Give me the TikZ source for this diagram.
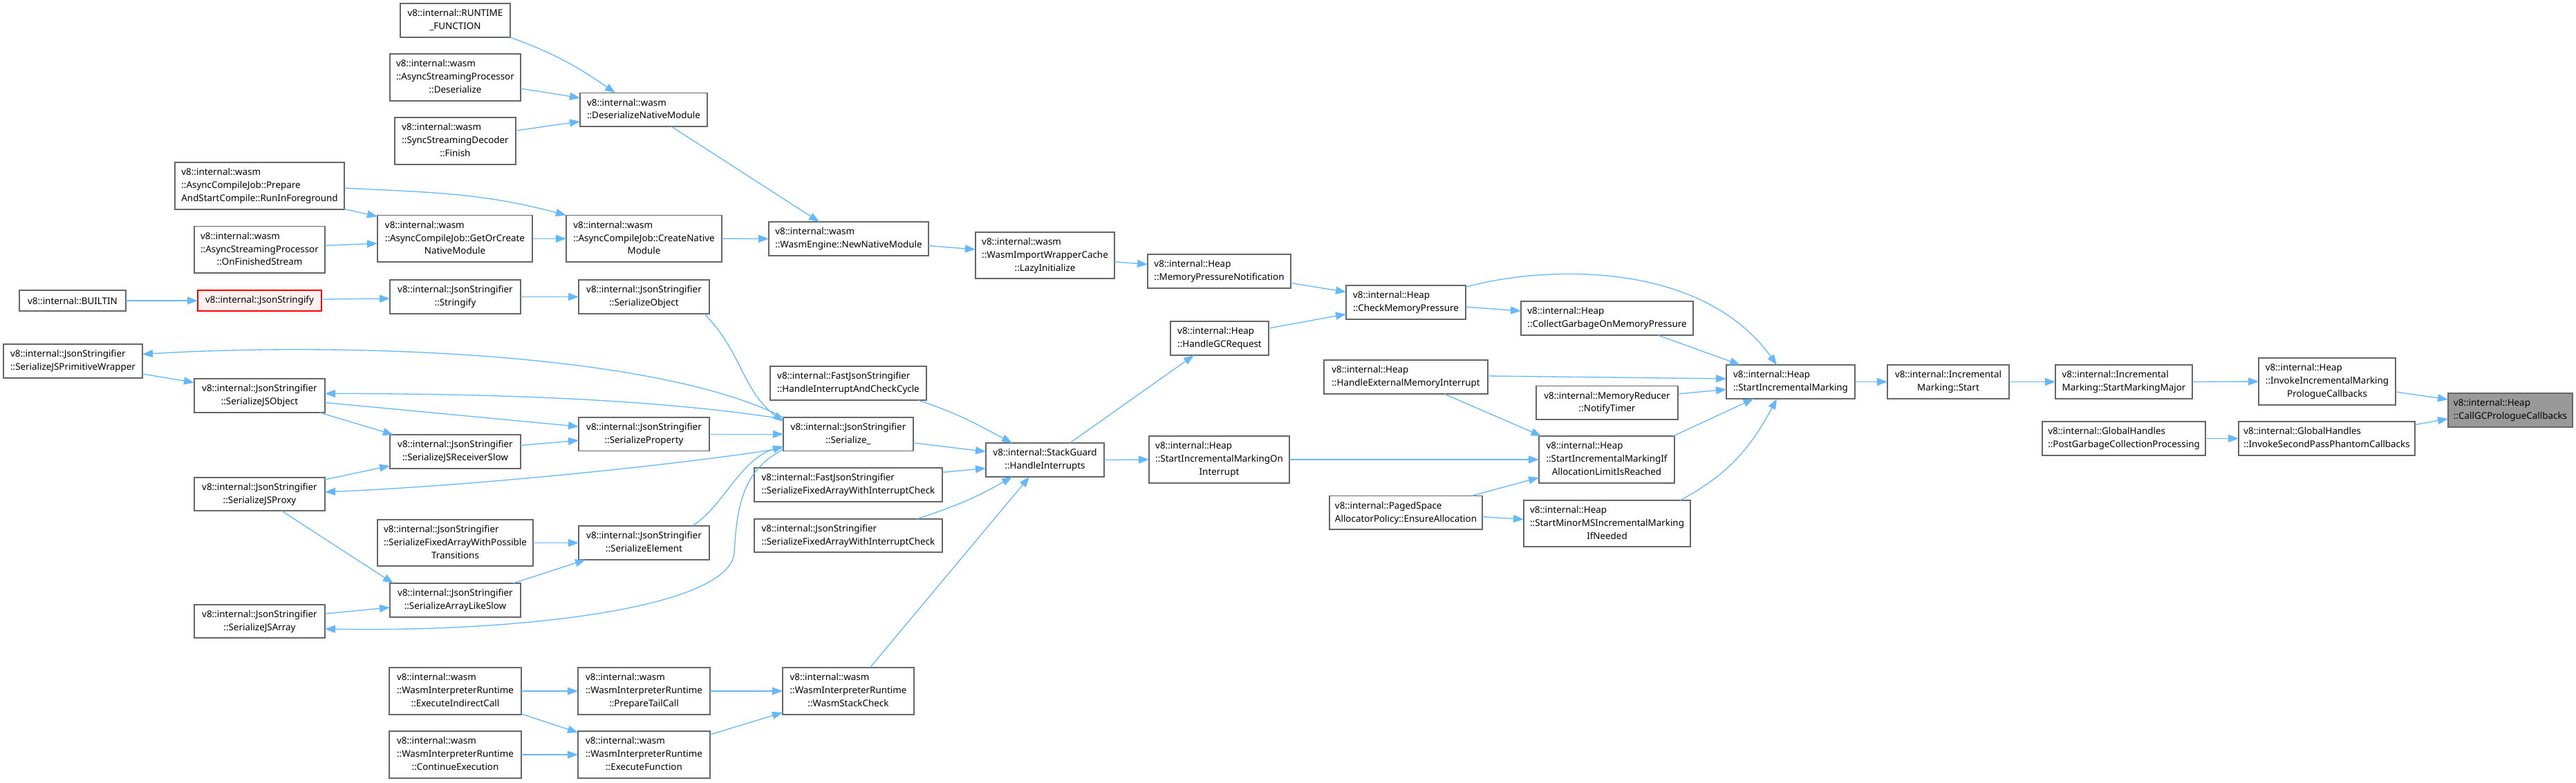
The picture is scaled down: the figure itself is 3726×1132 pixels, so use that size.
\documentclass[tikz,border=0pt]{standalone}
\usepackage{fontspec}
\setmainfont{Noto Sans}
\usetikzlibrary{arrows.meta,calc}
\definecolor{edgec}{HTML}{63B8FF}
\definecolor{bordc}{HTML}{666666}
\definecolor{redfill}{HTML}{FFF0F0}
\definecolor{grayfill}{HTML}{999999}
\tikzset{
  box/.style={draw=bordc, line width=0.75pt, fill=white, inner xsep=2pt, inner ysep=1pt,
    outer sep=0pt, font=\fontsize{6.7}{9.45}\selectfont},
  redbox/.style={draw=red, fill=redfill},
  graybox/.style={fill=grayfill},
  arr/.style={draw=edgec, line width=0.65pt, -{Triangle[length=7.5pt,width=5.5pt]}}
}
\newcommand{\Lii}[2]{\begin{tabular}{@{}l@{}}#1\\\multicolumn{1}{@{}c@{}}{#2}\end{tabular}}
\newcommand{\Liii}[3]{\begin{tabular}{@{}l@{}}#1\\#2\\\multicolumn{1}{@{}c@{}}{#3}\end{tabular}}
\newcommand{\nd}[7][]{%
  \pgfmathsetmacro\ndw{#5*0.5}\pgfmathsetmacro\ndh{#6*0.5}%
  \node[box,#1,minimum width=\ndw pt,minimum height=\ndh pt] (#2) at ({#3},{#4}) {#7};}
\begin{document}
\begin{tikzpicture}[x=0.5pt,y=-0.5pt]
\useasboundingbox (0,0) rectangle (3726,1132);
\fill[white] (0,0) rectangle (3726,1132);
% column 0
\nd{BI}{105}{435}{154}{30}{v8::internal::BUILTIN}
\nd{SJPW}{105.5}{522.5}{201}{49}{\Lii{v8::internal::JsonStringifier}{::SerializeJSPrimitiveWrapper}}
% column 1
\nd{PSC}{375.5}{269}{245}{68}{\Liii{v8::internal::wasm}{::AsyncCompileJob::Prepare}{AndStartCompile::RunInForeground}}
\nd{OFS}{375.5}{361.25}{189}{67.5}{\Liii{v8::internal::wasm}{::AsyncStreamingProcessor}{::OnFinishedStream}}
\nd[redbox]{JS}{375.5}{435}{179}{30}{v8::internal::JsonStringify}
\nd{SJO}{375.5}{572.5}{189}{49}{\Lii{v8::internal::JsonStringifier}{::SerializeJSObject}}
\nd{SJP}{375.5}{715}{189}{48}{\Lii{v8::internal::JsonStringifier}{::SerializeJSProxy}}
\nd{SJA}{375.5}{899}{189}{48}{\Lii{v8::internal::JsonStringifier}{::SerializeJSArray}}
% column 2
\nd{RF}{658.5}{29.5}{159}{49}{\Lii{v8::internal::RUNTIME}{\_FUNCTION}}
\nd{ASPD}{658.5}{112}{189}{68}{\Liii{v8::internal::wasm}{::AsyncStreamingProcessor}{::Deserialize}}
\nd{SSDF}{658.5}{204}{175}{68}{\Liii{v8::internal::wasm}{::SyncStreamingDecoder}{::Finish}}
\nd{GOC}{658}{345.25}{224}{67.5}{\Liii{v8::internal::wasm}{::AsyncCompileJob::GetOrCreate}{NativeModule}}
\nd{STR}{658.5}{429.5}{189}{49}{\Lii{v8::internal::JsonStringifier}{::Stringify}}
\nd{SJRS}{658.5}{653.5}{189}{49}{\Lii{v8::internal::JsonStringifier}{::SerializeJSReceiverSlow}}
\nd{SFAWPT}{658.5}{785.5}{225}{67}{\Liii{v8::internal::JsonStringifier}{::SerializeFixedArrayWithPossible}{Transitions}}
\nd{SALS}{658.5}{868.5}{189}{49}{\Lii{v8::internal::JsonStringifier}{::SerializeArrayLikeSlow}}
\nd{EIC}{658.5}{1000}{191}{68}{\Liii{v8::internal::wasm}{::WasmInterpreterRuntime}{::ExecuteIndirectCall}}
\nd{CE}{658.5}{1092}{191}{68}{\Liii{v8::internal::wasm}{::WasmInterpreterRuntime}{::ContinueExecution}}
% column 3
\nd{DNM}{931}{158.75}{184}{48.5}{\Lii{v8::internal::wasm}{::DeserializeNativeModule}}
\nd{CNM}{931.5}{345.25}{225}{67.5}{\Liii{v8::internal::wasm}{::AsyncCompileJob::CreateNative}{Module}}
\nd{SO}{931.5}{429.5}{189}{49}{\Lii{v8::internal::JsonStringifier}{::SerializeObject}}
\nd{SP}{931.5}{628.25}{189}{48.5}{\Lii{v8::internal::JsonStringifier}{::SerializeProperty}}
\nd{SE}{931.5}{785.5}{189}{49}{\Lii{v8::internal::JsonStringifier}{::SerializeElement}}
\nd{PTC}{931.5}{1000}{191}{68}{\Liii{v8::internal::wasm}{::WasmInterpreterRuntime}{::PrepareTailCall}}
\nd{EF}{931.5}{1092}{191}{68}{\Liii{v8::internal::wasm}{::WasmInterpreterRuntime}{::ExecuteFunction}}
% column 4
\nd{NNM}{1227.5}{345.5}{231}{49}{\Lii{v8::internal::wasm}{::WasmEngine::NewNativeModule}}
\nd{FHIC}{1227}{554.5}{226}{49}{\Lii{v8::internal::FastJsonStringifier}{::HandleInterruptAndCheckCycle}}
\nd{SER}{1227}{628.25}{188}{48.5}{\Lii{v8::internal::JsonStringifier}{::Serialize\_}}
\nd{FSFA}{1227}{701.5}{272}{49}{\Lii{v8::internal::FastJsonStringifier}{::SerializeFixedArrayWithInterruptCheck}}
\nd{JSFA}{1227}{775}{272}{48}{\Lii{v8::internal::JsonStringifier}{::SerializeFixedArrayWithInterruptCheck}}
\nd{WSC}{1227}{1000}{190}{68}{\Liii{v8::internal::wasm}{::WasmInterpreterRuntime}{::WasmStackCheck}}
% column 5
\nd{LI}{1511.5}{369.5}{201}{67}{\Liii{v8::internal::wasm}{::WasmImportWrapperCache}{::LazyInitialize}}
\nd{SG}{1511.5}{665.5}{171}{49}{\Lii{v8::internal::StackGuard}{::HandleInterrupts}}
% column 6
\nd{MPN}{1763.5}{392.5}{207}{49}{\Lii{v8::internal::Heap}{::MemoryPressureNotification}}
\nd{HGC}{1764}{489.5}{142}{49}{\Lii{v8::internal::Heap}{::HandleGCRequest}}
\nd{SIMOI}{1763.5}{665}{203}{68}{\Liii{v8::internal::Heap}{::StartIncrementalMarkingOn}{Interrupt}}
% column 7
\nd{CMP}{2033.5}{437.5}{173}{49}{\Lii{v8::internal::Heap}{::CheckMemoryPressure}}
\nd{HEMI}{2033.5}{545.5}{237}{49}{\Lii{v8::internal::Heap}{::HandleExternalMemoryInterrupt}}
\nd{EA}{2033.5}{741.75}{221}{48.5}{\Lii{v8::internal::PagedSpace}{AllocatorPolicy::EnsureAllocation}}
% column 8
\nd{CGMP}{2324.5}{460.5}{249}{49}{\Lii{v8::internal::Heap}{::CollectGarbageOnMemoryPressure}}
\nd{MRNT}{2324.5}{582.75}{205}{48.5}{\Lii{v8::internal::MemoryReducer}{::NotifyTimer}}
\nd{SIMAL}{2324}{665}{196}{68}{\Liii{v8::internal::Heap}{::StartIncrementalMarkingIf}{AllocationLimitIsReached}}
\nd{SMMS}{2324.5}{757.5}{241}{67}{\Liii{v8::internal::Heap}{::StartMinorMSIncrementalMarking}{IfNeeded}}
% columns 9-13
\nd{SIM}{2590}{552.5}{186}{49}{\Lii{v8::internal::Heap}{::StartIncrementalMarking}}
\nd{IMS}{2818}{552.5}{176}{49}{\Lii{v8::internal::Incremental}{Marking::Start}}
\nd{SMM}{3072}{552.5}{198}{49}{\Lii{v8::internal::Incremental}{Marking::StartMarkingMajor}}
\nd{PGCP}{3072}{634.5}{236}{49}{\Lii{v8::internal::GlobalHandles}{::PostGarbageCollectionProcessing}}
\nd{IIMPC}{3366}{552}{198}{68}{\Liii{v8::internal::Heap}{::InvokeIncrementalMarking}{PrologueCallbacks}}
\nd{ISPPC}{3365.5}{634.5}{255}{49}{\Lii{v8::internal::GlobalHandles}{::InvokeSecondPassPhantomCallbacks}}
\nd[graybox]{CGC}{3631}{593.5}{180}{49}{\Lii{v8::internal::Heap}{::CallGCPrologueCallbacks}}
% ---------------- edges: wasm part
\draw[arr] (RF.south east) to[out=-20,in=145] ($(DNM.north west)+(51,0)$);
\draw[arr] ($(ASPD.east)+(0,16)$) -- ($(DNM.west)+(0,-17)$);
\draw[arr] ($(SSDF.east)+(0,-15)$) -- ($(DNM.west)+(0,17)$);
\draw[arr] ($(DNM.south)+(40,0)$) -- ($(NNM.north)+(-42.5,0)$);
\draw[arr] ($(PSC.east)+(0,3)$) to[out=-3,in=165] (CNM.north west);
\draw[arr] ($(PSC.east)+(0,33.5)$) -- ($(GOC.west)+(0,-32)$);
\draw[arr] ($(OFS.east)+(0,-6)$) -- ($(GOC.west)+(0,7)$);
\draw[arr] (GOC.east) -- (CNM.west);
\draw[arr] (CNM.east) -- (NNM.west);
\draw[arr] ($(NNM.east)+(0,10)$) -- ($(LI.west)+(0,-8.5)$);
\draw[arr] ($(LI.east)+(0,9.3)$) -- ($(MPN.west)+(0,-10)$);
\draw[arr] ($(MPN.east)+(0,17)$) -- ($(CMP.west)+(0,-15)$);
\draw[arr] ($(HGC.east)+(0,-14.5)$) -- ($(CMP.west)+(0,17)$);
\draw[arr] ($(CMP.east)+(0,-22)$) .. controls +(110,-31) and +(-110,-153) .. ($(SIM.north)+(-20,0)$);
\draw[arr] ($(CMP.east)+(0,6.5)$) -- ($(CGMP.west)+(0,-10.5)$);
\draw[arr] ($(CGMP.south)+(73.5,0)$) -- ($(SIM.north)+(-73,0)$);
\draw[arr] ($(HEMI.east)+(0,-1.5)$) -- ($(SIM.west)+(0,-4.5)$);
\draw[arr] ($(MRNT.east)+(0,-12.75)$) -- ($(SIM.west)+(0,11)$);
\draw[arr] ($(SIMAL.north)+(96,0)$) -- ($(SIM.south)+(-53.4,0)$);
\draw[arr] ($(SMMS.north)+(105.5,0)$) to[out=28,in=-118] ($(SIM.south)+(-20,0)$);
\draw[arr] ($(HEMI.south)+(55.5,0)$) -- ($(SIMAL.north west)+(3.6,0)$);
\draw[arr] (SIMOI.east) -- (SIMAL.west);
\draw[arr] ($(EA.north)+(95,0)$) -- ($(SIMAL.west)+(0,26)$);
\draw[arr] ($(EA.east)+(0,6)$) -- ($(SMMS.west)+(0,-6)$);
\draw[arr] (SIM.east) -- (IMS.west);
\draw[arr] (IMS.east) -- (SMM.west);
\draw[arr] (SMM.east) -- (IIMPC.west);
\draw[arr] ($(IIMPC.east)+(0,15)$) -- ($(CGC.west)+(0,-15.5)$);
\draw[arr] ($(ISPPC.east)+(0,-20)$) -- ($(CGC.west)+(0,12.5)$);
\draw[arr] (PGCP.east) -- (ISPPC.west);
\draw[arr] ($(SG.north)+(36,0)$) -- ($(HGC.south)+(-37,0)$);
\draw[arr] (SG.east) -- (SIMOI.west);
% ---------------- edges: json part
\draw[arr] (BI.east) -- (JS.west);
\draw[arr] ($(JS.east)+(0,-2)$) -- ($(STR.west)+(0,2.5)$);
\draw[arr] (STR.east) -- (SO.west);
\draw[arr] ($(SO.south)+(87,0)$) .. controls +(55,55) and +(-60,-45) .. ($(SER.north west)+(0,6)$);
\draw[arr] (SER.north west) .. controls +(-183,-94) and +(294,-17.5) .. ($(SJPW.east)+(0,-10)$);
\draw[arr] ($(SJPW.east)+(0,18.5)$) -- ($(SJO.west)+(0,-19)$);
\draw[arr] ($(SER.west)+(0,-22)$) .. controls +(-133,-21) and +(330,0) .. ($(SJO.east)+(0,-3)$);
\draw[arr] ($(SJO.east)+(0,10)$) -- ($(SP.west)+(0,-11)$);
\draw[arr] ($(SJO.south)+(87,0)$) -- ($(SJRS.north west)+(5,0)$);
\draw[arr] ($(SJP.east)+(0,-21)$) -- ($(SJRS.west)+(0,20.5)$);
\draw[arr] ($(SER.west)+(0,20)$) .. controls +(-133,22) and +(230,-10) .. ($(SJP.east)+(0,-3)$);
\draw[arr] ($(SJRS.east)+(0,-9)$) -- ($(SP.west)+(0,9)$);
\draw[arr] (SP.east) -- (SER.west);
\draw[arr] ($(SJP.south)+(31.5,0)$) -- ($(SALS.north west)+(5,0)$);
\draw[arr] ($(SJA.east)+(0,-11)$) -- ($(SALS.west)+(0,10.5)$);
\draw[arr] ($(SER.west)+(0,22)$) .. controls (1075,680) and (1066,730) .. (1062,800)
   .. controls (1055,880) and (750,915) .. ($(SJA.east)+(0,11)$);
\draw[arr] (SFAWPT.east) -- (SE.west);
\draw[arr] ($(SALS.north)+(83.5,0)$) -- ($(SE.south west)+(10,0)$);
\draw[arr] ($(SE.north)+(69.5,0)$) .. controls +(44,-26) and +(-63,19) .. ($(SER.west)+(0,17.5)$);
\draw[arr] ($(FHIC.south)+(100.6,0)$) to[out=-18,in=152] ($(SG.north)+(-47.5,0)$);
\draw[arr] ($(SER.east)+(0,12.5)$) -- ($(SG.west)+(0,-12)$);
\draw[arr] ($(FSFA.east)+(0,-18)$) -- ($(SG.west)+(0,12)$);
\draw[arr] ($(JSFA.north)+(98.6,0)$) to[out=18,in=-150] ($(SG.south)+(-47.5,0)$);
\draw[arr] ($(WSC.north)+(31.4,0)$) -- ($(SG.south)+(-22.6,0)$);
% ---------------- edges: interpreter part
\draw[arr] (EIC.east) -- (PTC.west);
\draw[arr] ($(EIC.east)+(0,33)$) -- ($(EF.west)+(0,-32)$);
\draw[arr] (CE.east) -- (EF.west);
\draw[arr] (PTC.east) -- (WSC.west);
\draw[arr] ($(EF.east)+(0,-29)$) -- ($(WSC.west)+(0,31)$);
\end{tikzpicture}
\end{document}
